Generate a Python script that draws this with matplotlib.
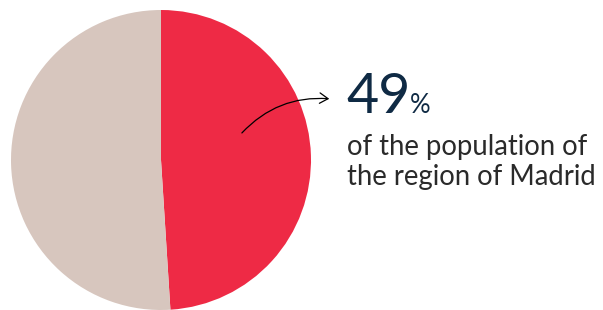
import matplotlib
matplotlib.use("Agg")
import matplotlib.pyplot as plt

# data
labels = ["Madrid city", "Rest of region"]
shares = [49, 51]
colors = ["#EE2A45", "#D7C6BE"]
headline = "49"
caption = ["of the population of", "the region of Madrid"]

W, H = 603, 310
fig = plt.figure(figsize=(W / 100, H / 100), dpi=100)

# pie axes: centre (161, 160), radius 150 px
ax = fig.add_axes([11 / W, 0 / H, 300 / W, 300 / H])
ax.pie(shares, colors=colors, startangle=90, counterclock=False,
       radius=1.0, wedgeprops=dict(linewidth=0))
ax.set_xlim(-1, 1)
ax.set_ylim(-1, 1)
ax.set_aspect("equal")
ax.axis("off")

navy = "#0F2A44"
fig.text(346 / W, 1 - 113 / H, headline, fontsize=40, color=navy,
         family="Lato", va="baseline", ha="left")
fig.text(410 / W, 1 - 113 / H, "%", fontsize=18.5, color=navy,
         family="Lato", va="baseline", ha="left")
for i, line in enumerate(caption):
    fig.text(347 / W, 1 - (155 + 30 * i) / H, line, fontsize=19.8,
             color="#2A2A2A", family="Lato", va="baseline", ha="left")

# curved arrow
fig.add_artist(matplotlib.patches.FancyArrowPatch(
    posA=(240 / W, 1 - 135 / H), posB=(332 / W, 1 - 99 / H),
    transform=fig.transFigure, arrowstyle="->,head_length=4,head_width=2.5",
    connectionstyle="arc3,rad=-0.25", color="black", linewidth=0.9,
    mutation_scale=1.5))

fig.savefig("out.png", dpi=100)
